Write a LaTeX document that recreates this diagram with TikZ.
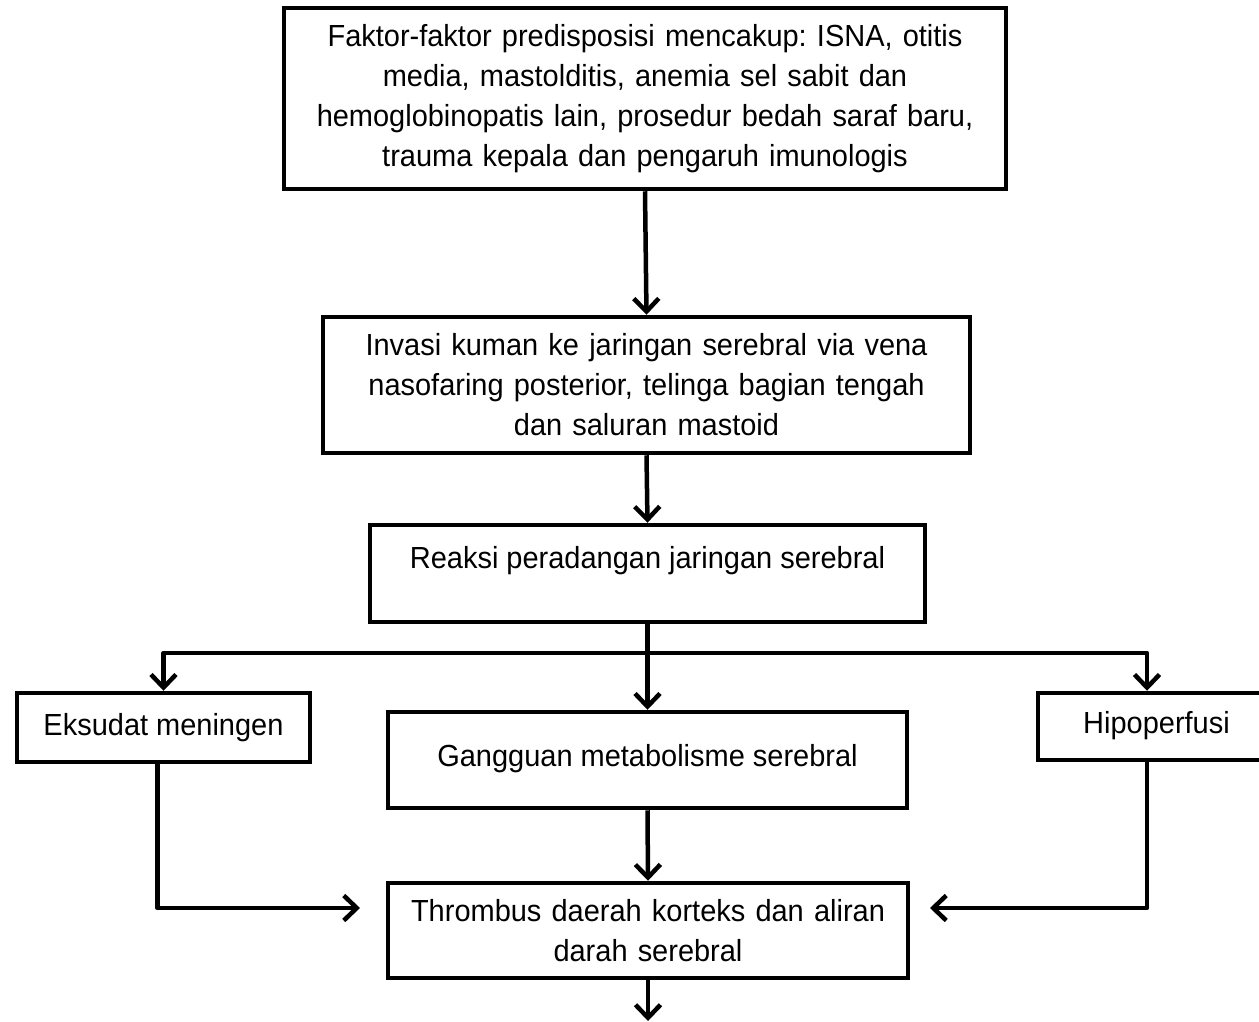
\documentclass[tikz,border=0pt]{standalone}
\usepackage{fontspec}
\setmainfont[FakeStretch=0.95]{Liberation Sans}
\frenchspacing
\usetikzlibrary{arrows.meta}
\begin{document}
\begin{tikzpicture}[x=1pt,y=-1pt,
  box/.style={draw, line width=4.5pt, inner sep=0pt, align=center, font=\fontsize{30.5}{40}\selectfont},
  conn/.style={line width=4.5pt, line join=round, -{Straight Barb[length=13pt,width=25pt,line width=4.5pt]}}]
\useasboundingbox (0,0) rectangle (1259,1021);
\node[box, text width=722pt, minimum height=181pt] (top) at (645,98.5)
  {Faktor-faktor predisposisi mencakup: ISNA, otitis\\ media, mastolditis, anemia sel sabit dan\\ hemoglobinopatis lain, prosedur bedah saraf baru,\\ trauma kepala dan pengaruh imunologis};
\node[box, text width=647pt, minimum height=136pt] (inv) at (646.5,385)
  {Invasi kuman ke jaringan serebral via vena\\ nasofaring posterior, telinga bagian tengah\\ dan saluran mastoid};
\node[box, minimum width=555pt, text height=43pt, text depth=54pt, anchor=base] (rea) at (647.5,568)
  {Reaksi peradangan jaringan serebral};
\node[box, minimum width=519pt, text height=54pt, text depth=42pt, anchor=base] (gan) at (647.5,766)
  {Gangguan metabolisme serebral};
\node[box, minimum width=293pt, text height=42pt, text depth=27pt, anchor=base] (eks) at (163.5,735)
  {Eksudat meningen};
\node[box, minimum width=237pt, text height=40pt, text depth=27pt, anchor=base] (hip) at (1156.5,733)
  {Hipoperfusi};
\node[box, text width=520pt, minimum height=95pt] (thr) at (648,930.5)
  {Thrombus daerah korteks dan aliran\\ darah serebral};
\coordinate (hl) at (0,653);
\coordinate (ltip) at (360,908);
\coordinate (rtip) at (930,908);
\coordinate (end) at (648,1021);
\draw[conn] (top.south) -- (inv.north);
\draw[conn] (inv.south) -- (rea.north);
\draw[conn] (rea.south) -- (gan.north);
\draw[conn] (rea.south |- hl) -| (eks.north);
\draw[conn] (rea.south |- hl) -| ([xshift=-9.5pt]hip.north);
\draw[conn] (gan.south) -- (thr.north);
\draw[conn] (thr.south) -- (end);
\draw[conn] ([xshift=-6pt]eks.south) |- (ltip);
\draw[conn] ([xshift=-9.5pt]hip.south) |- (rtip);
\end{tikzpicture}
\end{document}
